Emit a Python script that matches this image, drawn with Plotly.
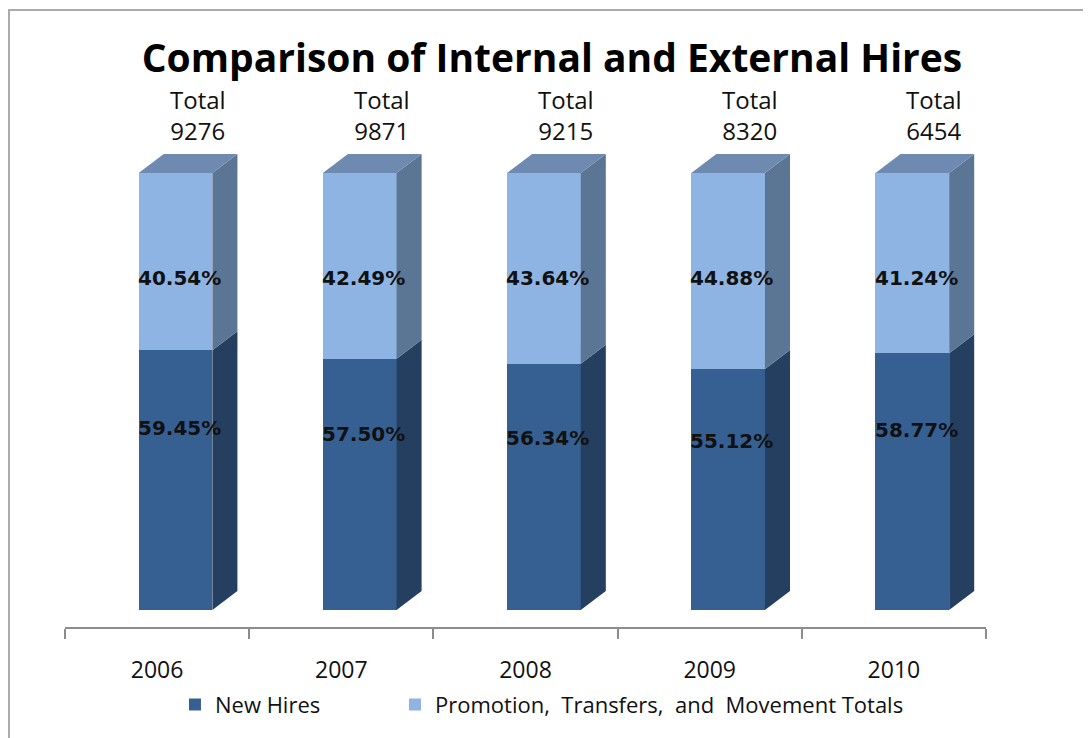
import plotly.graph_objects as go

years = ["2006", "2007", "2008", "2009", "2010"]
new_hires_pct = [59.45, 57.50, 56.34, 55.12, 58.77]
promo_pct = [40.54, 42.49, 43.64, 44.88, 41.24]
totals = [9276, 9871, 9215, 8320, 6454]

series_names = ["New Hires", "Promotion,\u00a0 Transfers,\u00a0 and\u00a0 Movement Totals"]

# styling
FRONT = ["#376092", "#8EB4E3"]
SIDE = ["#243F60", "#5B7594"]
TOP = "#6E8AB1"
BAR_LEFT = -0.10
BAR_W = 0.40
DX = 0.136
DY = 4.35

fig = go.Figure()
xs = list(range(len(years)))

# front faces
fig.add_trace(go.Bar(x=xs, y=new_hires_pct, name=series_names[0], marker=dict(color=FRONT[0], line=dict(width=0)),
                     width=BAR_W, offset=BAR_LEFT, hoverinfo="skip", legend="legend"))
fig.add_trace(go.Bar(x=xs, y=promo_pct, name=series_names[1], marker=dict(color=FRONT[1], line=dict(width=0)),
                     width=BAR_W, offset=BAR_LEFT, hoverinfo="skip", legend="legend2"))

# side and top faces computed from the data
for i, (a, b) in enumerate(zip(new_hires_pct, promo_pct)):
    xr = i + BAR_LEFT + BAR_W
    segs = [(0, a, SIDE[0]), (a, a + b, SIDE[1])]
    for y0, y1, col in segs:
        fig.add_trace(go.Scatter(x=[xr, xr + DX, xr + DX, xr, xr], y=[y0, y0 + DY, y1 + DY, y1, y0],
                                 fill="toself", fillcolor=col, line=dict(width=0), mode="lines",
                                 showlegend=False, hoverinfo="skip"))
    top = a + b
    xl = i + BAR_LEFT
    fig.add_trace(go.Scatter(x=[xl, xr, xr + DX, xl + DX, xl], y=[top, top, top + DY, top + DY, top],
                             fill="toself", fillcolor=TOP, line=dict(width=0), mode="lines",
                             showlegend=False, hoverinfo="skip"))

annotations = []
for i in xs:
    annotations.append(dict(x=i + 0.22, y=113.3, xref="x", yref="y", text=f"Total<br>{totals[i]}",
                            showarrow=False, font=dict(family="Open Sans", size=24, color="#111111")))
    annotations.append(dict(x=i + 0.12, y=new_hires_pct[i] * 0.7, xref="x", yref="y",
                            text=f"{new_hires_pct[i]:.2f}%", showarrow=False,
                            font=dict(family="DejaVu Sans", size=20, color="#111111", weight="bold")))
    annotations.append(dict(x=i + 0.12, y=76, xref="x", yref="y",
                            text=f"{promo_pct[i]:.2f}%", showarrow=False,
                            font=dict(family="DejaVu Sans", size=20, color="#111111", weight="bold")))

legend_style = dict(orientation="h", xanchor="left", y=-0.145, yanchor="middle",
                    font=dict(family="Open Sans", size=22, color="#111111"), itemwidth=30,
                    bgcolor="rgba(0,0,0,0)")

fig.update_layout(
    width=1091, height=738,
    margin=dict(l=57, r=113, t=83, b=119),
    paper_bgcolor="white", plot_bgcolor="white",
    barmode="stack",
    title=dict(text="<b>Comparison of Internal and External Hires</b>", x=0.4986, y=0.932,
               xanchor="center", yanchor="middle",
               font=dict(family="Open Sans", size=39, color="#000000")),
    xaxis=dict(range=[-0.5, 4.5], tickvals=xs, ticktext=years, ticks="", showgrid=False,
               zeroline=False, showline=True, linecolor="#8C8C8C", linewidth=2,
               tickfont=dict(family="Open Sans", size=23, color="#111111"),
               ticklabelstandoff=21,
               minor=dict(tickvals=[-0.5, 0.5, 1.5, 2.5, 3.5, 4.5], ticks="outside", ticklen=10,
                          tickcolor="#8C8C8C", tickwidth=2, showgrid=False)),
    yaxis=dict(range=[-3.89, 118.76], visible=False, showgrid=False, zeroline=False),
    legend=dict(x=0.1194, **legend_style),
    legend2=dict(x=0.3583, **legend_style),
    annotations=annotations,
    shapes=[dict(type="rect", xref="paper", yref="paper", x0=-0.0608, x1=1.3, y0=-0.5, y1=1.151,
                 line=dict(color="#ABABAB", width=2), fillcolor="rgba(0,0,0,0)", layer="below")],
    showlegend=True,
)

fig.write_html("out.html")
